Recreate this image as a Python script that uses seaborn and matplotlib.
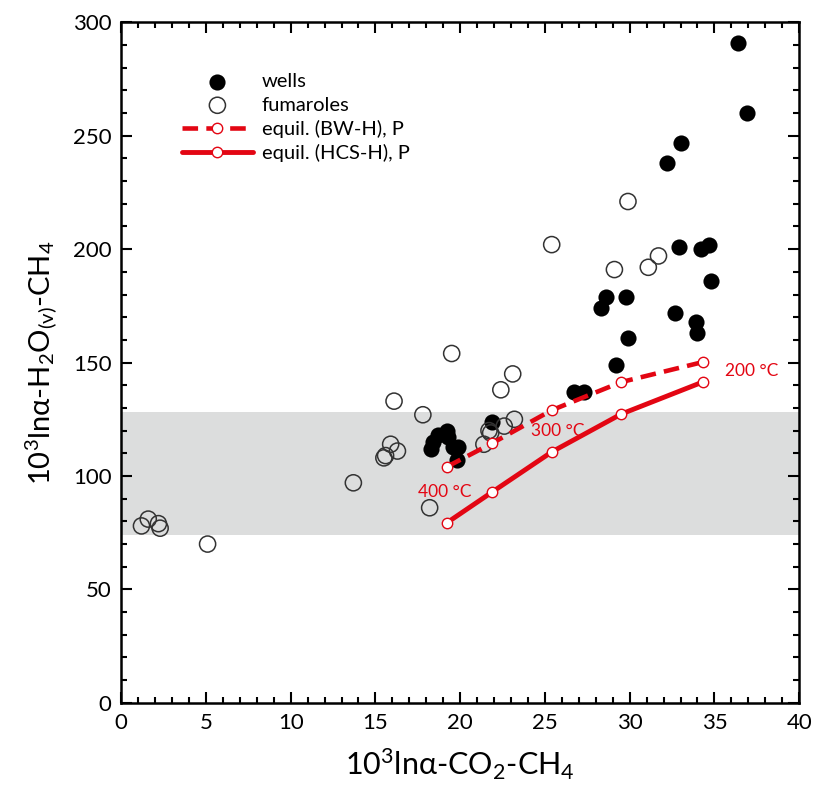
import numpy as np
import pandas as pd
import matplotlib
matplotlib.use("Agg")
import matplotlib.pyplot as plt
import seaborn as sns
from matplotlib.ticker import MultipleLocator

# data
wells_x = [36.4, 36.9, 33.0, 32.2, 32.9, 34.2, 34.7, 34.8, 32.7, 33.9, 34.0,
           28.6, 28.3, 29.8, 29.9, 29.2, 26.7, 27.3, 21.9,
           18.3, 18.4, 18.7, 19.2, 19.3, 19.6, 19.9, 19.8]
wells_y = [291, 260, 247, 238, 201, 200, 202, 186, 172, 168, 163,
           179, 174, 179, 161, 149, 137, 137, 124,
           112, 115, 118, 120, 117, 113, 113, 107]

fum_x = [1.2, 1.6, 2.2, 2.3, 5.1, 16.1, 15.9, 16.3, 15.5, 15.6, 13.7,
         19.5, 17.8, 18.2, 21.4, 21.8, 22.4, 23.1, 23.2, 22.6, 21.7,
         29.9, 25.4, 31.7, 31.1, 29.1]
fum_y = [78, 81, 79, 77, 70, 133, 114, 111, 108, 109, 97,
         154, 127, 86, 114, 119, 138, 145, 125, 122, 120,
         221, 202, 197, 192, 191]

bw_x = [19.2, 21.9, 25.4, 29.5, 34.3]
bw_y = [104, 114.5, 129, 141.4, 150.2]
hcs_x = [19.2, 21.9, 25.4, 29.5, 34.3]
hcs_y = [79.3, 93, 110.6, 127.3, 141.4]

band = (74, 128)
red = "#e30613"

sns.set_style("ticks")
plt.rcParams["font.family"] = ["Lato", "DejaVu Sans"]
plt.rcParams["mathtext.fontset"] = "custom"
plt.rcParams["mathtext.rm"] = "Lato"
plt.rcParams["mathtext.it"] = "Lato"
plt.rcParams["text.color"] = "black"
plt.rcParams["axes.labelcolor"] = "black"
plt.rcParams["xtick.color"] = "black"
plt.rcParams["ytick.color"] = "black"
plt.rcParams["axes.edgecolor"] = "black"

fig = plt.figure(figsize=(8.13, 7.96), dpi=100)
ax = fig.add_axes([0.149, 0.117, 0.834, 0.855])

ax.axhspan(band[0], band[1], color="#dcdddd", lw=0, zorder=0)

sns.scatterplot(x=wells_x, y=wells_y, ax=ax, color="black", s=135,
                edgecolor="black", linewidth=0, label="wells", zorder=3)
sns.scatterplot(x=fum_x, y=fum_y, ax=ax, facecolor="none", s=135,
                edgecolor="#333333", linewidth=1.1, label="fumaroles", zorder=3)

sns.lineplot(x=bw_x, y=bw_y, ax=ax, color=red, lw=3.3, linestyle=(0, (3.4, 1.8)),
             marker="o", markersize=7.5, markerfacecolor="white",
             markeredgecolor=red, markeredgewidth=1, label="equil. (BW-H), P",
             zorder=4, sort=False)
sns.lineplot(x=hcs_x, y=hcs_y, ax=ax, color=red, lw=3.5,
             marker="o", markersize=7.5, markerfacecolor="white",
             markeredgecolor=red, markeredgewidth=1, label="equil. (HCS-H), P",
             zorder=4, sort=False)

ax.text(19.1, 93, "400 °C", color=red, fontsize=12.5, ha="center", va="center")
ax.text(24.2, 120, "300 °C", color=red, fontsize=12.5, ha="left", va="center")
ax.text(35.6, 146.5, "200 °C", color=red, fontsize=12.5, ha="left", va="center")

ax.set_xlim(0, 40)
ax.set_ylim(0, 300)
ax.xaxis.set_major_locator(MultipleLocator(5))
ax.xaxis.set_minor_locator(MultipleLocator(1))
ax.yaxis.set_major_locator(MultipleLocator(50))
ax.yaxis.set_minor_locator(MultipleLocator(10))
ax.tick_params(which="both", direction="in", top=True, right=True, width=1.5)
ax.tick_params(which="major", length=8, labelsize=16, pad=7)
ax.tick_params(which="minor", length=4)
for sp in ax.spines.values():
    sp.set_linewidth(1.8)

ax.set_xlabel("10$^3$lnα-CO$_2$-CH$_4$", fontsize=22, labelpad=10)
ax.set_ylabel("10$^3$lnα-H$_2$O$_{(v)}$-CH$_4$", fontsize=21, labelpad=10)

ax.legend(loc="upper left", bbox_to_anchor=(0.09, 0.925), frameon=False,
          fontsize=14.5, handlelength=3.5, handletextpad=0.45, labelspacing=0.3,
          borderpad=0, borderaxespad=0)

fig.savefig("out.png", dpi=100)
